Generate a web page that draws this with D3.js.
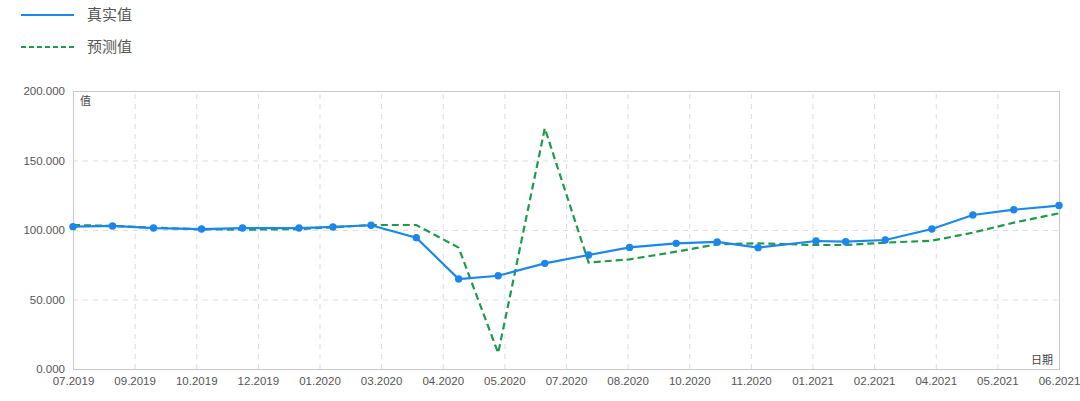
<!DOCTYPE html>
<html>
<head>
<meta charset="utf-8">
<script src="https://cdn.jsdelivr.net/npm/d3@7"></script>
<style>
  body { margin: 0; background: #fff; }
  .axis text { font-family: 'Liberation Sans', 'Noto Sans CJK SC', sans-serif; font-size: 11.5px; fill: #555; }
  .axis .domain { display: none; }
  .grid line { stroke: #ddd; stroke-dasharray: 5,5; }
  .grid .domain { display: none; }
</style>
</head>
<body>
<script>
const dates = [
  '2019-07-31', '2019-08-28', '2019-09-26', '2019-10-30', '2019-11-28', '2020-01-07',
  '2020-01-31', '2020-02-27', '2020-03-30', '2020-04-29', '2020-05-27', '2020-06-29',
  '2020-07-30', '2020-08-28', '2020-09-30', '2020-10-29', '2020-11-27', '2021-01-07',
  '2021-01-28', '2021-02-25', '2021-03-30', '2021-04-28', '2021-05-27', '2021-06-28'
]
const actual = [
  102.4, 102.9, 101.4, 100.7, 101.4, 101.4, 102.2, 103.4, 94.5, 64.7, 67.1, 76.0,
  82.0, 87.5, 90.4, 91.4, 87.3, 92.1, 91.6, 92.8, 100.7, 110.8, 114.6, 117.6
]
const predicted = [
  103.6, 102.9, 101.7, 100.5, 100.2, 100.7, 101.9, 103.6, 103.6, 87.3, 11.5, 173.2,
  76.6, 78.9, 84.4, 89.7, 90.4, 89.2, 89.2, 90.9, 92.3, 98.1, 105.3, 112.0
]
const xTickLabels = [
  '07.2019', '09.2019', '10.2019', '12.2019', '01.2020', '03.2020', '04.2020', '05.2020',
  '07.2020', '08.2020', '10.2020', '11.2020', '01.2021', '02.2021', '04.2021', '05.2021', '06.2021'
]
const yTicks = [0, 50, 100, 150, 200]
const seriesNames = ['真实值', '预测值']

function drawChart() {
  const svgWidth = 1080, svgHeight = 401
  const margin = {top: 91, right: 21, bottom: 32, left: 73}
  const width = svgWidth - margin.left - margin.right,
    height = svgHeight - margin.top - margin.bottom

  const blue = '#1c87ea', green = '#1f9a4c'

  const parseDate = d3.utcParse('%Y-%m-%d')
  const data = dates.map(function(d, i) {
    return {date: parseDate(d), actual: actual[i], predicted: predicted[i]}
  })

  const svg = d3.select('body').append('svg')
    .attr('width', svgWidth)
    .attr('height', svgHeight)

  const x = d3.scaleUtc()
    .domain(d3.extent(data, function(d) { return d.date }))
    .range([0, width])
  const y = d3.scaleLinear().domain([0, 200]).range([height, 0])

  // evenly spaced time ticks across the domain
  const [t0, t1] = x.domain()
  const step = (t1 - t0) / (xTickLabels.length - 1)
  const xTickValues = xTickLabels.map(function(_, i) { return new Date(+t0 + i * step) })

  const g = svg.append('g')
    .attr('transform', 'translate(' + margin.left + ',' + margin.top + ')')

  g.append('g')
    .attr('class', 'grid')
    .call(d3.axisLeft(y).tickValues(yTicks.slice(1, -1)).tickSize(-width).tickFormat(''))

  g.append('g')
    .attr('class', 'grid')
    .attr('transform', 'translate(0,' + height + ')')
    .call(d3.axisBottom(x).tickValues(xTickValues.slice(1, -1)).tickSize(-height).tickFormat(''))

  g.append('rect')
    .attr('x', 0.5).attr('y', 0.5)
    .attr('width', width).attr('height', height)
    .attr('fill', 'none')
    .attr('stroke', '#c8c8c8')

  g.append('g')
    .attr('class', 'axis')
    .call(d3.axisLeft(y).tickValues(yTicks).tickSize(0).tickPadding(8).tickFormat(d3.format('.3f')))

  g.append('g')
    .attr('class', 'axis')
    .attr('transform', 'translate(0,' + height + ')')
    .call(d3.axisBottom(x).tickValues(xTickValues).tickSize(0).tickPadding(8)
      .tickFormat(function(d, i) { return xTickLabels[i] }))

  g.append('text')
    .attr('x', 7).attr('y', 14)
    .attr('font-family', "'Noto Sans CJK SC', sans-serif")
    .attr('font-size', 11)
    .attr('fill', '#444')
    .text('值')

  g.append('text')
    .attr('x', width - 6).attr('y', height - 5)
    .attr('text-anchor', 'end')
    .attr('font-family', "'Noto Sans CJK SC', sans-serif")
    .attr('font-size', 11)
    .attr('fill', '#444')
    .text('日期')

  const actualLine = d3.line()
    .x(function(d) { return x(d.date) })
    .y(function(d) { return y(d.actual) })
  const predictedLine = d3.line()
    .x(function(d) { return x(d.date) })
    .y(function(d) { return y(d.predicted) })

  g.append('path')
    .datum(data)
    .attr('fill', 'none')
    .attr('stroke', green)
    .attr('stroke-width', 2.2)
    .attr('stroke-dasharray', '7,4')
    .attr('d', predictedLine)

  g.append('path')
    .datum(data)
    .attr('fill', 'none')
    .attr('stroke', blue)
    .attr('stroke-width', 2.2)
    .attr('d', actualLine)

  g.selectAll('.dot')
    .data(data)
    .enter().append('circle')
    .attr('class', 'dot')
    .attr('cx', function(d) { return x(d.date) })
    .attr('cy', function(d) { return y(d.actual) })
    .attr('r', 3.7)
    .attr('fill', blue)

  // legend
  const legend = svg.append('g')
  const legendItems = legend.selectAll('g')
    .data(seriesNames)
    .enter().append('g')
    .attr('transform', function(d, i) { return 'translate(21,' + (15 + i * 32) + ')' })
  legendItems.append('line')
    .attr('x1', 0).attr('x2', 53)
    .attr('stroke', function(d, i) { return i === 0 ? blue : green })
    .attr('stroke-width', 2)
    .attr('stroke-dasharray', function(d, i) { return i === 0 ? null : '5,3' })
  legendItems.append('text')
    .attr('x', 66).attr('dy', '0.35em')
    .attr('font-family', "'Noto Sans CJK SC', sans-serif")
    .attr('font-size', 15)
    .attr('fill', '#555')
    .text(function(d) { return d })
}

drawChart()
</script>
</body>
</html>
